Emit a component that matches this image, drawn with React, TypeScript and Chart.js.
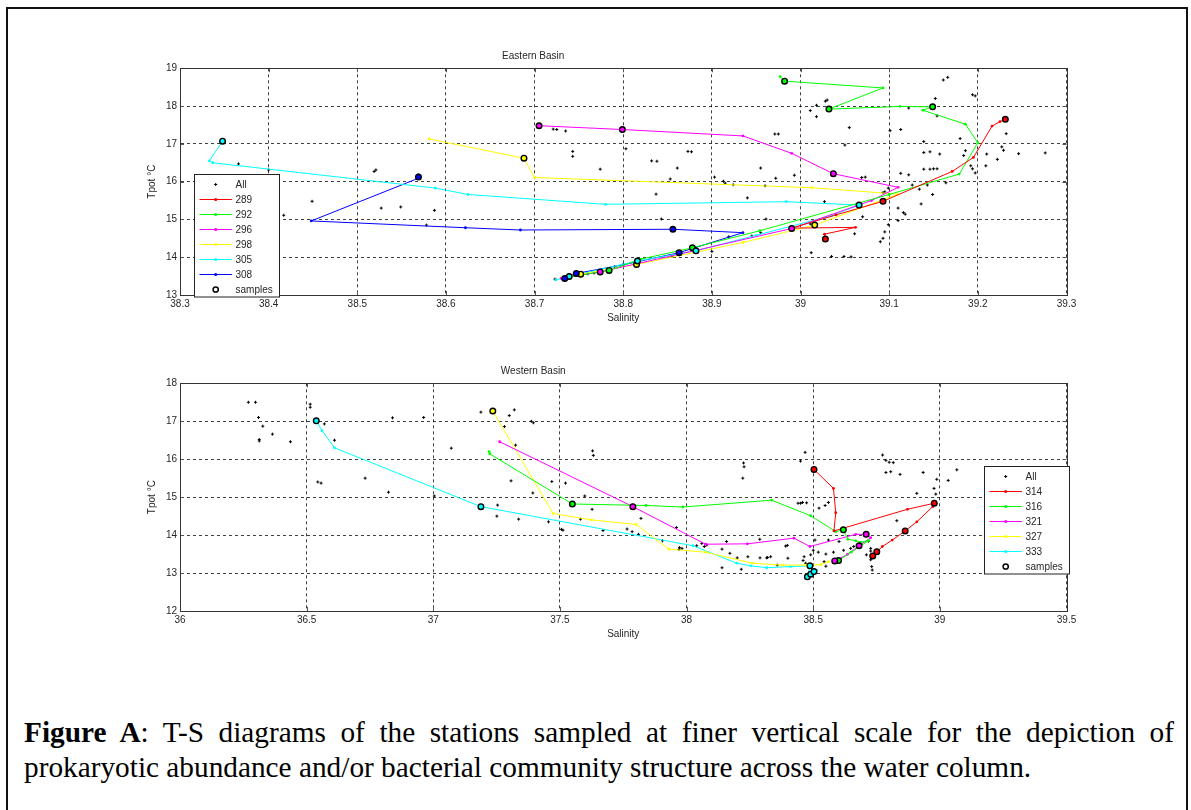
import React, { useEffect, useRef } from "react";
import { Chart, registerables } from "chart.js";
Chart.register(...registerables);

const FONT = "'Liberation Sans', Arial, Helvetica, sans-serif";
const TXT = "#262626";

// ---------------- Eastern Basin ----------------
const eastTitle = "Eastern Basin";
const eastSalTicks = [38.3, 38.4, 38.5, 38.6, 38.7, 38.8, 38.9, 39, 39.1, 39.2, 39.3];
const eastTemTicks = [13, 14, 15, 16, 17, 18, 19];
const eastStations = ["289", "292", "296", "298", "305", "308"];

const eastAllSal = [
  38.366, 38.4, 38.417, 38.449, 38.521, 38.519, 38.527, 38.549, 38.587, 38.578,
  38.721, 38.725, 38.735, 38.743, 38.743, 38.774, 38.803, 38.832, 38.838, 38.861,
  38.873, 38.877, 38.853, 38.837, 38.843, 38.903, 38.913, 38.915, 38.924, 38.94,
  38.955, 38.96, 38.961, 38.919, 38.945, 38.955, 38.9, 38.855, 38.79, 38.767,
  38.76, 38.723, 38.972, 38.993, 38.971, 38.975, 39.011, 39.018, 39.028, 39.03,
  39.018, 39.055, 39.05, 39.027, 39.011, 39.012, 39.049, 39.057, 39.061, 39.069,
  39.073, 39.035, 39.095, 39.093, 39.09, 39.099, 39.099, 39.093, 39.095, 39.101,
  39.113, 39.152, 39.161, 39.166, 39.122, 39.154, 39.18, 39.139, 39.194, 39.197,
  39.146, 39.139, 39.157, 39.186, 39.184, 39.21, 39.227, 39.229, 39.222, 39.246,
  39.232, 39.209, 39.192, 39.197, 39.194, 39.139, 39.146, 39.15, 39.154, 39.164,
  39.143, 39.134, 39.149, 39.136, 39.113, 39.122, 39.126, 39.11, 39.116, 39.118,
  39.11, 39.07, 39.276,
];
const eastAllTem = [
  16.47, 16.31, 15.11, 15.48, 16.31, 16.27, 15.3, 15.33, 15.24, 14.85,
  17.39, 17.38, 17.34, 16.8, 16.67, 16.33, 16.87, 16.55, 16.54, 16.36,
  16.8, 16.79, 16.07, 15.67, 15.01, 16.12, 16.01, 15.96, 15.92, 15.57,
  16.36, 15.89, 15.01, 14.54, 14.56, 14.65, 14.15, 14.02, 13.75, 13.58,
  13.56, 13.42, 16.09, 16.17, 17.26, 17.26, 17.88, 18.02, 18.13, 18.16,
  17.72, 17.43, 16.97, 15.47, 14.88, 14.12, 14.02, 14.01, 14.62, 16.11,
  16.12, 14.02, 14.67, 14.5, 14.41, 14.86, 15.83, 15.71, 15.73, 17.35,
  17.38, 18.2, 18.69, 18.76, 17.95, 17.74, 17.14, 17.06, 18.3, 18.27,
  16.79, 16.77, 16.73, 16.82, 16.69, 16.73, 16.92, 16.83, 16.59, 16.74,
  17.27, 16.42, 16.42, 16.23, 16.34, 16.33, 16.33, 16.34, 16.34, 15.97,
  15.91, 15.8, 15.66, 15.41, 16.22, 16.18, 15.91, 15.3, 15.18, 15.14,
  14.97, 15.07, 16.76,
];

const sal289 = [39.231, 39.225, 39.216, 39.195, 39.171, 39.093, 39.04, 38.99, 39.062, 39.027, 39.028];
const tem289 = [17.65, 17.59, 17.47, 16.64, 16.27, 15.48, 15.12, 14.77, 14.79, 14.61, 14.48];
const smpSal289 = [39.231, 39.093, 39.028];
const smpTem289 = [17.65, 15.48, 14.48];

const sal292 = [38.977, 38.982, 39.093, 39.032, 39.112, 39.149, 39.138, 39.186, 39.2, 39.179, 39.1, 38.954, 38.878, 38.82, 38.784, 38.735];
const tem292 = [18.78, 18.66, 18.48, 17.92, 17.99, 17.98, 17.89, 17.52, 17.03, 16.2, 15.66, 14.7, 14.25, 13.95, 13.65, 13.46];
const smpSal292 = [38.982, 39.032, 39.149, 38.878, 38.784];
const smpTem292 = [18.66, 17.92, 17.98, 14.25, 13.65];

const sal296 = [38.705, 38.799, 38.935, 38.99, 39.037, 39.11, 39.08, 38.99, 38.88, 38.774, 38.73];
const tem296 = [17.48, 17.38, 17.21, 16.75, 16.21, 15.85, 15.5, 14.76, 14.17, 13.61, 13.44];
const smpSal296 = [38.705, 38.799, 39.037, 38.99, 38.774];
const smpTem296 = [17.48, 17.38, 16.21, 14.76, 13.61];

const sal298 = [38.581, 38.688, 38.7, 39.013, 39.11, 39.016, 38.935, 38.815, 38.752, 38.73];
const tem298 = [17.13, 16.62, 16.11, 15.84, 15.67, 14.85, 14.39, 13.81, 13.55, 13.45];
const smpSal298 = [38.688, 39.016, 38.815, 38.752];
const smpTem298 = [16.62, 14.85, 13.81, 13.55];

const sal305 = [38.348, 38.333, 38.337, 38.588, 38.625, 38.78, 38.984, 39.066, 39.035, 38.95, 38.882, 38.816, 38.739, 38.724];
const tem305 = [17.07, 16.55, 16.5, 15.83, 15.66, 15.4, 15.47, 15.38, 15.1, 14.58, 14.17, 13.9, 13.49, 13.4];
const smpSal305 = [38.348, 39.066, 38.882, 38.816, 38.739];
const smpTem305 = [17.07, 15.38, 14.17, 13.9, 13.49];

const sal308 = [38.569, 38.57, 38.448, 38.622, 38.684, 38.856, 38.935, 38.863, 38.8, 38.747, 38.734];
const tem308 = [16.18, 16.1, 14.96, 14.78, 14.72, 14.74, 14.65, 14.12, 13.8, 13.57, 13.44];
const smpSal308 = [38.569, 38.856, 38.863, 38.747, 38.734];
const smpTem308 = [16.12, 14.74, 14.12, 13.57, 13.44];

// ---------------- Western Basin ----------------
const westTitle = "Western Basin";
const westSalTicks = [36, 36.5, 37, 37.5, 38, 38.5, 39, 39.5];
const westTemTicks = [12, 13, 14, 15, 16, 17, 18];
const westStations = ["314", "316", "321", "327", "333"];

const westAllSal = [
  36.27, 36.298, 36.31, 36.327, 36.313, 36.313, 36.365, 36.436, 36.514, 36.514,
  36.57, 36.61, 36.544, 36.557, 36.731, 36.823, 36.839, 36.962, 37.004, 37.071,
  37.188, 37.3, 37.32, 37.281, 37.325, 37.387, 37.395, 37.307, 37.393, 37.254,
  37.251, 37.337, 37.455, 37.468, 37.522, 37.506, 37.512, 37.629, 37.632, 37.598,
  37.627, 37.581, 37.67, 37.765, 37.785, 37.81, 37.82, 37.96, 37.905, 37.972,
  37.982, 37.97, 38.04, 38.06, 38.07, 38.08, 38.14, 38.158, 38.171, 38.2,
  38.225, 38.227, 38.222, 38.289, 38.242, 38.14, 38.216, 38.29, 38.32, 38.468,
  38.45, 38.44, 38.45, 38.458, 38.474, 38.523, 38.547, 38.56, 38.391, 38.398,
  38.316, 38.332, 38.358, 38.4, 38.464, 38.46, 38.47, 38.507, 38.56, 38.543,
  38.55, 38.602, 38.648, 38.727, 38.727, 38.71, 38.727, 38.731, 38.733, 38.774,
  38.787, 38.8, 38.816, 38.787, 38.806, 38.843, 38.934, 38.988, 39.033, 39.067,
  38.909, 38.977, 38.984, 38.83, 38.718, 38.5, 38.52, 38.49, 38.55, 38.58,
  38.62, 38.66,
];
const westAllTem = [
  17.5, 17.5, 17.1, 16.87, 16.48, 16.52, 16.66, 16.46, 17.45, 17.37,
  16.93, 16.5, 15.4, 15.37, 15.5, 15.13, 17.09, 17.1, 15.03, 16.29,
  17.24, 17.15, 17.3, 16.86, 16.37, 17.0, 16.96, 15.43, 15.11, 14.79,
  14.5, 14.42, 14.35, 15.41, 15.37, 14.15, 14.13, 16.22, 16.1, 15.03,
  14.68, 14.42, 14.12, 14.16, 14.09, 14.02, 14.44, 14.2, 13.85, 13.67,
  13.65, 13.62, 13.72, 13.78, 13.7, 13.74, 13.63, 13.83, 13.52, 13.4,
  15.9, 15.8, 15.5, 13.89, 13.43, 13.14, 13.1, 13.4, 13.41, 16.18,
  15.95, 14.84, 14.84, 14.86, 14.85, 14.71, 14.78, 14.86, 13.71, 13.73,
  13.4, 13.43, 13.21, 13.39, 13.43, 13.33, 13.26, 13.87, 13.87, 13.3,
  13.18, 13.83, 13.65, 13.65, 13.58, 13.48, 13.35, 13.17, 13.08, 16.11,
  15.97, 15.92, 15.91, 15.65, 15.67, 15.6, 15.65, 15.47, 15.44, 15.72,
  15.1, 15.23, 15.08, 14.38, 13.84, 13.6, 13.55, 13.48, 13.5, 13.55,
  13.6, 13.7,
];

const sal314 = [38.503, 38.58, 38.589, 38.582, 38.872, 38.978, 38.972, 38.909, 38.863, 38.812, 38.773, 38.751, 38.735];
const tem314 = [15.73, 15.23, 14.59, 14.11, 14.68, 14.84, 14.75, 14.35, 14.11, 13.87, 13.7, 13.56, 13.45];
const smpSal314 = [38.503, 38.978, 38.863, 38.751, 38.735];
const smpTem314 = [15.73, 14.84, 14.11, 13.56, 13.45];

const sal316 = [37.22, 37.223, 37.549, 37.84, 37.985, 38.336, 38.49, 38.589, 38.619, 38.637, 38.668, 38.688, 38.72, 38.65, 38.6];
const tem316 = [16.2, 16.14, 14.82, 14.78, 14.74, 14.92, 14.51, 14.09, 14.14, 13.89, 13.85, 13.81, 13.86, 13.55, 13.33];
const smpSal316 = [37.549, 38.619, 38.6];
const smpTem316 = [14.82, 14.14, 13.33];

const sal321 = [37.262, 37.788, 38.075, 38.24, 38.424, 38.487, 38.668, 38.709, 38.727, 38.681, 38.635, 38.585];
const tem321 = [16.46, 14.75, 13.76, 13.77, 13.92, 13.7, 14.02, 14.02, 13.93, 13.72, 13.49, 13.32];
const smpSal321 = [37.788, 38.709, 38.681, 38.585];
const smpTem321 = [14.75, 14.02, 13.72, 13.32];

const sal327 = [37.235, 37.473, 37.625, 37.801, 37.93, 38.075, 38.259, 38.378, 38.47, 38.53, 38.56];
const tem327 = [17.27, 14.57, 14.4, 14.28, 13.63, 13.55, 13.26, 13.21, 13.21, 13.22, 13.3];
const smpSal327 = [37.235];
const smpTem327 = [17.27];

const sal333 = [36.538, 36.561, 36.61, 37.188, 38.025, 38.198, 38.253, 38.316, 38.411, 38.487, 38.477, 38.49, 38.503, 38.514];
const tem333 = [17.01, 16.75, 16.3, 14.75, 13.72, 13.26, 13.19, 13.14, 13.17, 13.19, 12.9, 12.97, 13.04, 13.07];
const smpSal333 = [36.538, 37.188, 38.487, 38.477, 38.49, 38.503];
const smpTem333 = [17.01, 14.75, 13.19, 12.9, 12.97, 13.04];

// ---------------- styles ----------------
const eastColors = ["#ff0000", "#00ff00", "#ff00ff", "#ffff00", "#00ffff", "#0000ff"];
const westColors = ["#ff0000", "#00ff00", "#ff00ff", "#ffff00", "#00ffff"];

const captionBold = "Figure A";
const captionText =
  ": T-S diagrams of the stations sampled at finer vertical scale for the depiction of prokaryotic abundance and/or bacterial community structure across the water column.";

type Series = { sal: number[]; tem: number[]; smpSal: number[]; smpTem: number[] };

const eastSeries: Series[] = [
  { sal: sal289, tem: tem289, smpSal: smpSal289, smpTem: smpTem289 },
  { sal: sal292, tem: tem292, smpSal: smpSal292, smpTem: smpTem292 },
  { sal: sal296, tem: tem296, smpSal: smpSal296, smpTem: smpTem296 },
  { sal: sal298, tem: tem298, smpSal: smpSal298, smpTem: smpTem298 },
  { sal: sal305, tem: tem305, smpSal: smpSal305, smpTem: smpTem305 },
  { sal: sal308, tem: tem308, smpSal: smpSal308, smpTem: smpTem308 },
];
const westSeries: Series[] = [
  { sal: sal314, tem: tem314, smpSal: smpSal314, smpTem: smpTem314 },
  { sal: sal316, tem: tem316, smpSal: smpSal316, smpTem: smpTem316 },
  { sal: sal321, tem: tem321, smpSal: smpSal321, smpTem: smpTem321 },
  { sal: sal327, tem: tem327, smpSal: smpSal327, smpTem: smpTem327 },
  { sal: sal333, tem: tem333, smpSal: smpSal333, smpTem: smpTem333 },
];

const zip = (xs: number[], ys: number[]) => xs.map((x, i) => ({ x, y: ys[i] }));

const matlabPlugin = {
  id: "matlab",
  afterDatasetsDraw(chart: any) {
    const { ctx, chartArea: a, scales } = chart;
    ctx.save();
    ctx.strokeStyle = "#555";
    ctx.lineWidth = 1;
    ctx.beginPath();
    const tl = 4;
    scales.x.ticks.forEach((t: any) => {
      const px = Math.round(scales.x.getPixelForValue(t.value)) + 0.5;
      ctx.moveTo(px, a.bottom);
      ctx.lineTo(px, a.bottom - tl);
      ctx.moveTo(px, a.top);
      ctx.lineTo(px, a.top + tl);
    });
    scales.y.ticks.forEach((t: any) => {
      const py = Math.round(scales.y.getPixelForValue(t.value)) + 0.5;
      ctx.moveTo(a.left, py);
      ctx.lineTo(a.left + tl, py);
      ctx.moveTo(a.right, py);
      ctx.lineTo(a.right - tl, py);
    });
    ctx.stroke();
    ctx.strokeStyle = "#333";
    ctx.strokeRect(
      Math.round(a.left) + 0.5,
      Math.round(a.top) + 0.5,
      Math.round(a.right) - Math.round(a.left),
      Math.round(a.bottom) - Math.round(a.top)
    );
    ctx.restore();
  },
  afterDraw(chart: any, _args: any, opts: any) {
    const lg = opts && opts.legend;
    if (!lg) return;
    const { ctx, chartArea: a } = chart;
    const n = lg.items.length;
    const w = 85;
    const h = 17.5 + (n - 1) * 15;
    let x0: number, y0: number;
    if (lg.corner === "bl") {
      x0 = a.left + lg.dx;
      y0 = a.bottom + lg.dy - h;
    } else {
      x0 = a.right + lg.dx - w;
      y0 = a.top + lg.dy;
    }
    x0 = Math.round(x0) + 0.5;
    y0 = Math.round(y0) + 0.5;
    ctx.save();
    ctx.fillStyle = "#fff";
    ctx.fillRect(x0, y0, w, h);
    ctx.strokeStyle = "#222";
    ctx.lineWidth = 1;
    ctx.strokeRect(x0, y0, w, h);
    ctx.font = `10px ${FONT}`;
    ctx.textBaseline = "middle";
    ctx.textAlign = "left";
    lg.items.forEach((it: any, i: number) => {
      const cy = Math.round(y0 + 9 + i * 15);
      const cx = x0 + 21.2;
      if (it.kind === "all") {
        ctx.strokeStyle = "#000";
        ctx.lineWidth = 1;
        ctx.beginPath();
        ctx.moveTo(cx - 1.5, cy + 0.5);
        ctx.lineTo(cx + 1.5, cy + 0.5);
        ctx.moveTo(cx, cy - 1);
        ctx.lineTo(cx, cy + 2);
        ctx.stroke();
      } else if (it.kind === "line") {
        ctx.strokeStyle = it.color;
        ctx.lineWidth = 1;
        ctx.beginPath();
        ctx.moveTo(x0 + 5, cy + 0.5);
        ctx.lineTo(x0 + 37.4, cy + 0.5);
        ctx.stroke();
        ctx.fillStyle = it.color;
        ctx.beginPath();
        ctx.arc(cx, cy + 0.5, 1.6, 0, Math.PI * 2);
        ctx.fill();
      } else {
        ctx.strokeStyle = "#000";
        ctx.lineWidth = 1.5;
        ctx.fillStyle = "#fff";
        ctx.beginPath();
        ctx.arc(cx, cy + 0.5, 2.6, 0, Math.PI * 2);
        ctx.fill();
        ctx.stroke();
      }
      ctx.fillStyle = TXT;
      ctx.fillText(it.label, x0 + 41, cy + 1);
    });
    ctx.restore();
  },
};

type PanelCfg = {
  title: string;
  salTicks: number[];
  temTicks: number[];
  allSal: number[];
  allTem: number[];
  stations: string[];
  series: Series[];
  colors: string[];
  xAxisHeight: number;
  xTitlePad: number;
  legend: { corner: string; dx: number; dy: number };
};

function buildConfig(p: PanelCfg): any {
  const stationSets = p.series.map((s, i) => ({
    label: p.stations[i],
    data: zip(s.sal, s.tem),
    showLine: true,
    borderColor: p.colors[i],
    backgroundColor: p.colors[i],
    borderWidth: 1,
    pointRadius: 1.4,
    pointBorderWidth: 0,
    pointStyle: "circle",
    order: 1,
  }));
  const smpData: { x: number; y: number }[] = [];
  const smpColors: string[] = [];
  p.series.forEach((s, i) => {
    zip(s.smpSal, s.smpTem).forEach((pt) => {
      smpData.push(pt);
      smpColors.push(p.colors[i]);
    });
  });
  const samples = {
    label: "samples",
    data: smpData,
    showLine: false,
    pointRadius: 2.8,
    pointBorderWidth: 1.4,
    pointBorderColor: "#000",
    pointBackgroundColor: smpColors,
    order: 0,
  };
  const all = {
    label: "All",
    data: zip(p.allSal, p.allTem),
    showLine: false,
    pointStyle: "cross",
    pointRadius: 1.5,
    pointBorderWidth: 1,
    pointBorderColor: "#000",
    order: 2,
  };
  const legendItems = [
    { label: "All", kind: "all" },
    ...p.stations.map((s, i) => ({ label: s, kind: "line", color: p.colors[i] })),
    { label: "samples", kind: "samples" },
  ];
  const tickFont = { family: FONT, size: 10 };
  return {
    type: "scatter",
    data: { datasets: [samples, ...stationSets, all] },
    plugins: [matlabPlugin],
    options: {
      responsive: false,
      animation: false,
      devicePixelRatio: 1,
      events: [],
      layout: { padding: { left: 0, right: 124.5, top: 0, bottom: 0 } },
      plugins: {
        legend: { display: false },
        tooltip: { enabled: false },
        title: {
          display: true,
          text: p.title,
          color: TXT,
          font: { family: FONT, size: 10, weight: "normal" },
          padding: { top: 50, bottom: 6.3 },
        },
        matlab: { legend: { ...p.legend, items: legendItems } },
      },
      scales: {
        x: {
          type: "linear",
          position: "bottom",
          min: p.salTicks[0],
          max: p.salTicks[p.salTicks.length - 1],
          afterBuildTicks: (s: any) => {
            s.ticks = p.salTicks.map((v) => ({ value: v }));
          },
          afterFit: (s: any) => {
            s.height = p.xAxisHeight;
          },
          ticks: {
            padding: 3,
            color: TXT,
            font: tickFont,
            maxRotation: 0,
            autoSkip: false,
            callback: (v: any) => String(v),
          },
          grid: { color: "rgba(0,0,0,0.75)", lineWidth: 1, drawTicks: false },
          border: { display: true, color: "#333", width: 1, dash: [3, 3] },
          title: {
            display: true,
            text: "Salinity",
            color: TXT,
            font: tickFont,
            padding: { top: 0, bottom: p.xTitlePad },
          },
        },
        y: {
          type: "linear",
          position: "left",
          min: p.temTicks[0],
          max: p.temTicks[p.temTicks.length - 1],
          afterBuildTicks: (s: any) => {
            s.ticks = p.temTicks.map((v) => ({ value: v }));
          },
          afterFit: (s: any) => {
            s.width = 180;
          },
          ticks: {
            padding: 3,
            color: TXT,
            font: tickFont,
            autoSkip: false,
            callback: (v: any) => String(v),
          },
          grid: { color: "rgba(0,0,0,0.75)", lineWidth: 1, drawTicks: false },
          border: { display: true, color: "#333", width: 1, dash: [3, 3] },
          title: {
            display: true,
            text: "Tpot °C",
            color: TXT,
            font: tickFont,
            padding: { top: 146, bottom: 0 },
          },
        },
      },
    },
  };
}

function Panel({ cfg, top }: { cfg: PanelCfg; top: number }) {
  const ref = useRef<HTMLCanvasElement>(null);
  useEffect(() => {
    const chart = new Chart(ref.current as HTMLCanvasElement, buildConfig(cfg));
    return () => chart.destroy();
  }, []);
  return (
    <canvas
      ref={ref}
      width={1191}
      height={330}
      style={{ position: "absolute", left: 0, top, width: 1191, height: 330 }}
    />
  );
}

const eastCfg: PanelCfg = {
  title: eastTitle,
  salTicks: eastSalTicks,
  temTicks: eastTemTicks,
  allSal: eastAllSal,
  allTem: eastAllTem,
  stations: eastStations,
  series: eastSeries,
  colors: eastColors,
  xAxisHeight: 35,
  xTitlePad: 6,
  legend: { corner: "bl", dx: 14, dy: 1 },
};

const westCfg: PanelCfg = {
  title: westTitle,
  salTicks: westSalTicks,
  temTicks: westTemTicks,
  allSal: westAllSal,
  allTem: westAllTem,
  stations: westStations,
  series: westSeries,
  colors: westColors,
  xAxisHeight: 34,
  xTitlePad: 5,
  legend: { corner: "tr", dx: 2, dy: 83 },
};

export default function App() {
  return (
    <div
      style={{
        position: "fixed",
        left: 0,
        top: 0,
        width: 1191,
        height: 810,
        overflow: "hidden",
        background: "#fff",
      }}
    >
      <div
        style={{
          position: "absolute",
          left: 6,
          top: 7,
          width: 1182,
          height: 803,
          boxSizing: "border-box",
          borderTop: "2px solid #111",
          borderLeft: "2px solid #111",
          borderRight: "2px solid #111",
        }}
      />
      <Panel cfg={eastCfg} top={0} />
      <Panel cfg={westCfg} top={315} />
      <div
        style={{
          position: "absolute",
          left: 24,
          top: 715,
          width: 1150,
          fontFamily: "'Liberation Serif', 'Times New Roman', serif",
          fontSize: 29.3,
          lineHeight: "34.5px",
          textAlign: "justify",
          color: "#000",
        }}
      >
        <b>{captionBold}</b>
        {captionText}
      </div>
    </div>
  );
}
